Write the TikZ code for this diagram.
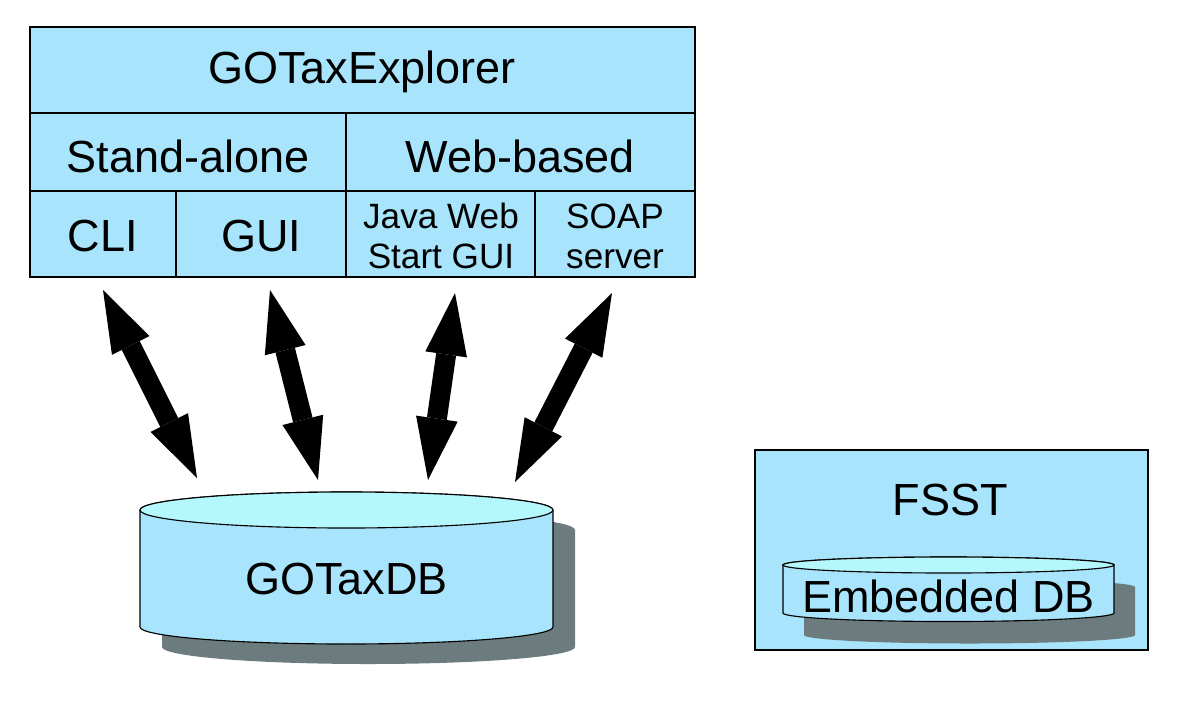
\documentclass[tikz,border=0pt]{standalone}
\usepackage{fontspec}
\setmainfont{Liberation Sans}
\usetikzlibrary{arrows.meta,calc}

\definecolor{boxblue}{RGB}{168,228,251}
\definecolor{topcyan}{RGB}{180,247,252}
\definecolor{shadowgrey}{RGB}{108,124,126}

\newcommand{\bigtxt}{\fontsize{32}{38}\selectfont}
\newcommand{\smalltxt}{\fontsize{25}{28.5}\selectfont}

\begin{document}
\begin{tikzpicture}[x=0.025cm, y=-0.025cm,
    line width=0.8pt,
    cell/.style={draw, fill=boxblue},
    label/.style={inner sep=0pt, font=\bigtxt},
    sublabel/.style={inner sep=0pt, align=center, font=\smalltxt},
    dbarrow/.style={line width=0.5cm,
        {Triangle[length=1.55cm,width=1.05cm,line width=0pt]}-{Triangle[length=1.55cm,width=1.05cm,line width=0pt]}}]
    \useasboundingbox (0,0) rectangle (1200,705);

    % GOTaxExplorer block with its cells
    \draw[cell] (30,27) rectangle (695,277);
    \draw (30,113) -- (695,113);
    \draw (30,191) -- (695,191);
    \draw (346,113) -- (346,277);
    \draw (176,191) -- (176,277);
    \draw (535,191) -- (535,277);
    \node[label] (explorer) at (362,72) {GOTaxExplorer};
    \node[label] (standalone) at (188,156) {Stand-alone};
    \node[label] (webbased) at (520,156) {Web-based};
    \node[label] (cli) at (103,236) {CLI};
    \node[label] (gui) at (261,236) {GUI};
    \node[sublabel] (javaws) at (441,236) {Java Web\\Start GUI};
    \node[sublabel] (soap) at (615,236) {SOAP\\server};

    % GOTaxDB cylinder: shadow, body, top
    \fill[shadowgrey, shift={(22,20)}] (140,510) -- (140,627)
        arc[start angle=180, end angle=0, x radius=206.5, y radius=17] -- (553,510)
        arc[start angle=0, end angle=-180, x radius=206.5, y radius=18] -- cycle;
    \draw[fill=boxblue] (140,510) -- (140,627)
        arc[start angle=180, end angle=0, x radius=206.5, y radius=17] -- (553,510)
        arc[start angle=0, end angle=-180, x radius=206.5, y radius=18] -- cycle;
    \draw[fill=topcyan] (346.5,510) ellipse[x radius=206.5, y radius=18];
    \node[label] (db) at (346.5,579) {GOTaxDB};

    % arrow ends on the database
    \coordinate (e1) at (197,478);
    \coordinate (e2) at (318,480);
    \coordinate (e3) at (428,480);
    \coordinate (e4) at (515,482);

    % double arrows
    \draw[dbarrow] ($(cli)+(0,54)$) -- (e1);
    \draw[dbarrow] ($(gui)+(9,54)$) -- (e2);
    \draw[dbarrow] ($(javaws)+(14,57)$) -- (e3);
    \draw[dbarrow] ($(soap)+(-3,57)$) -- (e4);

    % FSST box with embedded database
    \draw[cell] (755,450) rectangle (1148,650);
    \node[label] (fsst) at (950,500) {FSST};
    \fill[shadowgrey, shift={(21,22)}] (783,565) -- (783,613)
        arc[start angle=180, end angle=0, x radius=165.5, y radius=8.5] -- (1114,565)
        arc[start angle=0, end angle=-180, x radius=165.5, y radius=8] -- cycle;
    \draw[fill=boxblue] (783,565) -- (783,613)
        arc[start angle=180, end angle=0, x radius=165.5, y radius=8.5] -- (1114,565)
        arc[start angle=0, end angle=-180, x radius=165.5, y radius=8] -- cycle;
    \draw[fill=topcyan] (948.5,565) ellipse[x radius=165.5, y radius=8];
    \node[label] (embedded) at (948.5,596) {Embedded DB};
\end{tikzpicture}
\end{document}
